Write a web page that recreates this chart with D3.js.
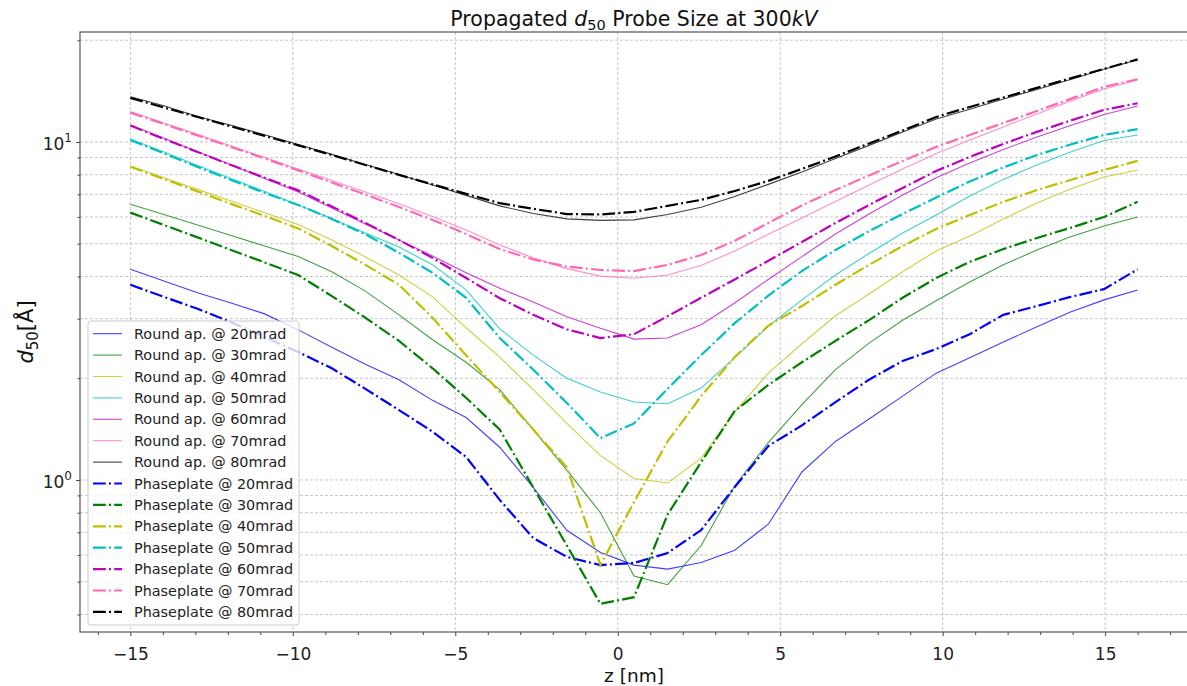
<!DOCTYPE html>
<html>
<head>
<meta charset="utf-8">
<script src="https://cdn.jsdelivr.net/npm/d3@7"></script>
<style>
  body { margin: 0; background: #fff; }
  svg { font-family: "DejaVu Sans", sans-serif; }
</style>
</head>
<body>
<div id="main"></div>
<script>
// defocus positions (nm)
var z = [-15, -13.967, -12.933, -11.9, -10.867, -9.833, -8.8, -7.767, -6.733, -5.7, -4.667,
  -3.633, -2.6, -1.567, -0.533, 0.5, 1.533, 2.567, 3.6, 4.633, 5.667, 6.7, 7.733, 8.767,
  9.8, 10.833, 11.867, 12.9, 13.933, 14.967, 16];

// round aperture, d50 in Angstrom
var round20 = [4.20, 3.88, 3.58, 3.34, 3.10, 2.78, 2.47, 2.20, 1.98, 1.72, 1.53, 1.25, 0.95, 0.71, 0.61, 0.56, 0.545, 0.57, 0.62, 0.74, 1.056, 1.30, 1.515, 1.77, 2.07, 2.30, 2.56, 2.84, 3.14, 3.41, 3.65];
var round30 = [6.54, 6.10, 5.68, 5.29, 4.92, 4.58, 4.13, 3.62, 3.08, 2.60, 2.23, 1.85, 1.41, 1.07, 0.80, 0.52, 0.49, 0.64, 0.96, 1.29, 1.67, 2.12, 2.54, 2.97, 3.39, 3.85, 4.33, 4.79, 5.24, 5.64, 6.00];
var round40 = [8.49, 7.84, 7.24, 6.69, 6.17, 5.70, 5.13, 4.57, 4.04, 3.48, 2.82, 2.31, 1.85, 1.47, 1.18, 1.01, 0.98, 1.16, 1.59, 2.07, 2.53, 3.06, 3.55, 4.13, 4.76, 5.27, 5.92, 6.60, 7.26, 7.88, 8.26];
var round50 = [10.21, 9.34, 8.52, 7.80, 7.14, 6.51, 5.94, 5.38, 4.89, 4.33, 3.65, 2.80, 2.34, 2.00, 1.82, 1.70, 1.68, 1.87, 2.30, 2.85, 3.41, 4.04, 4.68, 5.38, 6.08, 6.92, 7.75, 8.55, 9.34, 10.10, 10.49];
var round60 = [11.23, 10.25, 9.35, 8.55, 7.80, 7.11, 6.38, 5.72, 5.13, 4.60, 4.10, 3.69, 3.36, 3.04, 2.81, 2.61, 2.63, 2.88, 3.34, 3.92, 4.58, 5.34, 6.12, 6.97, 7.83, 8.67, 9.50, 10.35, 11.19, 12.06, 12.78];
var round70 = [12.3, 11.38, 10.53, 9.73, 9.00, 8.32, 7.69, 7.11, 6.56, 6.02, 5.49, 4.96, 4.54, 4.22, 4.01, 3.95, 4.04, 4.31, 4.76, 5.33, 5.96, 6.67, 7.46, 8.32, 9.25, 10.14, 11.08, 12.10, 13.23, 14.35, 15.26];
var round80 = [13.6, 12.8, 11.9, 11.2, 10.5, 9.83, 9.19, 8.58, 8.01, 7.46, 6.95, 6.47, 6.14, 5.92, 5.86, 5.88, 6.10, 6.41, 6.90, 7.49, 8.15, 8.93, 9.77, 10.7, 11.7, 12.5, 13.4, 14.3, 15.3, 16.4, 17.5];

// phaseplate
var phase20 = [3.78, 3.48, 3.21, 2.93, 2.65, 2.39, 2.14, 1.86, 1.61, 1.39, 1.17, 0.873, 0.673, 0.592, 0.56, 0.568, 0.608, 0.711, 0.953, 1.26, 1.45, 1.70, 1.98, 2.25, 2.44, 2.70, 3.08, 3.27, 3.48, 3.67, 4.20];
var phase30 = [6.18, 5.68, 5.22, 4.79, 4.40, 4.04, 3.50, 3.02, 2.58, 2.14, 1.75, 1.41, 0.95, 0.64, 0.43, 0.45, 0.79, 1.13, 1.60, 1.91, 2.23, 2.58, 2.97, 3.46, 3.96, 4.42, 4.82, 5.20, 5.57, 6.00, 6.65];
var phase40 = [8.45, 7.77, 7.14, 6.56, 6.04, 5.55, 4.92, 4.33, 3.78, 3.02, 2.34, 1.82, 1.41, 1.09, 0.56, 0.86, 1.30, 1.77, 2.31, 2.86, 3.27, 3.78, 4.33, 4.92, 5.53, 6.08, 6.65, 7.21, 7.72, 8.26, 8.79];
var phase50 = [10.14, 9.25, 8.44, 7.72, 7.07, 6.51, 5.92, 5.33, 4.70, 4.10, 3.46, 2.63, 2.12, 1.69, 1.33, 1.47, 1.86, 2.34, 2.91, 3.51, 4.15, 4.79, 5.45, 6.12, 6.85, 7.64, 8.41, 9.15, 9.83, 10.49, 10.91];
var phase60 = [11.18, 10.21, 9.34, 8.55, 7.83, 7.19, 6.44, 5.76, 5.13, 4.54, 3.96, 3.45, 3.08, 2.79, 2.63, 2.70, 3.05, 3.46, 3.92, 4.45, 5.06, 5.76, 6.51, 7.31, 8.21, 9.03, 9.87, 10.71, 11.57, 12.44, 13.02];
var phase70 = [12.21, 11.31, 10.45, 9.67, 8.94, 8.24, 7.59, 6.99, 6.42, 5.88, 5.34, 4.82, 4.49, 4.28, 4.18, 4.15, 4.33, 4.63, 5.10, 5.76, 6.49, 7.21, 7.96, 8.79, 9.67, 10.49, 11.38, 12.35, 13.41, 14.55, 15.33];
var phase80 = [13.5, 12.65, 11.86, 11.12, 10.42, 9.77, 9.15, 8.55, 7.99, 7.49, 7.02, 6.59, 6.34, 6.12, 6.10, 6.21, 6.47, 6.74, 7.16, 7.67, 8.32, 9.06, 9.90, 10.81, 11.86, 12.69, 13.54, 14.45, 15.42, 16.45, 17.55];

var angles = ['20mrad', '30mrad', '40mrad', '50mrad', '60mrad', '70mrad', '80mrad'];
var colors = ['#0000ff', '#008000', '#bfbf00', '#00bfbf', '#bf00bf', '#ff69b4', '#000000'];
var xMajor = [-15, -10, -5, 0, 5, 10, 15];
var yMajor = [1, 10];
var yMinor = [0.4, 0.5, 0.6, 0.7, 0.8, 0.9, 2, 3, 4, 5, 6, 7, 8, 9, 20];

var roundRows = [round20, round30, round40, round50, round60, round70, round80];
var phaseRows = [phase20, phase30, phase40, phase50, phase60, phase70, phase80];

var series = [];
roundRows.forEach(function(vals, i) {
  series.push({ label: 'Round ap. @ ' + angles[i], color: colors[i], values: vals, phase: false });
});
phaseRows.forEach(function(vals, i) {
  series.push({ label: 'Phaseplate @ ' + angles[i], color: colors[i], values: vals, phase: true });
});

var W = 1187, H = 686;
var plot = { left: 80, right: 1188, top: 32, bottom: 632 };
var dashdot = '12.8,3.2,2,3.2';
var gridColor = '#b8b8b8';

var x = d3.scaleLinear().domain([-16.55, 17.55]).range([plot.left, plot.right]);
var y = d3.scaleLog().domain([0.355, 21.15]).range([plot.bottom, plot.top]);

var svg = d3.select('#main').append('svg')
  .attr('width', W).attr('height', H);

svg.append('defs').append('clipPath').attr('id', 'plotclip')
  .append('rect')
  .attr('x', plot.left).attr('y', plot.top)
  .attr('width', plot.right - plot.left).attr('height', plot.bottom - plot.top);

// grid
var grid = svg.append('g').attr('stroke', gridColor).attr('stroke-width', 0.8)
  .attr('stroke-dasharray', '3,2');
grid.selectAll('.gx').data(xMajor).enter().append('line')
  .attr('x1', function(d) { return x(d); }).attr('x2', function(d) { return x(d); })
  .attr('y1', plot.top).attr('y2', plot.bottom);
grid.selectAll('.gy').data(yMajor.concat(yMinor)).enter().append('line')
  .attr('x1', plot.left).attr('x2', plot.right)
  .attr('y1', function(d) { return y(d); }).attr('y2', function(d) { return y(d); });

// axes
var xAxis = svg.append('g').attr('transform', 'translate(0,' + plot.bottom + ')')
  .call(d3.axisBottom(x).tickValues(xMajor).tickSize(4).tickPadding(12));
var xMinorAxis = svg.append('g').attr('transform', 'translate(0,' + plot.bottom + ')')
  .call(d3.axisBottom(x).tickValues(d3.range(-16, 18).filter(function(v) { return v % 5 !== 0; }))
    .tickSize(3).tickFormat(''));
var yAxis = svg.append('g').attr('transform', 'translate(' + plot.left + ',0)')
  .call(d3.axisLeft(y).tickValues(yMajor).tickSize(4).tickFormat(''));
var yMinorAxis = svg.append('g').attr('transform', 'translate(' + plot.left + ',0)')
  .call(d3.axisLeft(y).tickValues(yMinor).tickSize(2.5).tickFormat(''));

[xAxis, xMinorAxis, yAxis, yMinorAxis].forEach(function(a) {
  a.select('.domain').remove();
  a.selectAll('line').attr('stroke', '#444');
});
xAxis.selectAll('text').attr('font-size', 17).attr('fill', '#222')
  .attr('font-family', '"DejaVu Sans", sans-serif');

// y tick labels as 10^n
var yLab = svg.append('g').attr('fill', '#222');
yMajor.forEach(function(v) {
  var t = yLab.append('text').attr('x', 72).attr('y', y(v) + 8)
    .attr('text-anchor', 'end').attr('font-size', 17);
  t.append('tspan').text('10');
  t.append('tspan').attr('dy', -8).attr('font-size', 12).text(String(Math.round(Math.log10(v))));
});

// lines
var line = d3.line()
  .x(function(d, i) { return x(z[i]); })
  .y(function(d) { return y(d); });

var lines = svg.append('g').attr('clip-path', 'url(#plotclip)');
lines.selectAll('path').data(series).enter().append('path')
  .attr('d', function(d) { return line(d.values); })
  .attr('fill', 'none')
  .attr('stroke', function(d) { return d.color; })
  .attr('stroke-width', function(d) { return d.phase ? 2.2 : 1.1; })
  .attr('stroke-opacity', function(d) { return d.phase ? 1 : 0.75; })
  .attr('stroke-dasharray', function(d) { return d.phase ? dashdot : null; });

// frame
svg.append('rect')
  .attr('x', plot.left).attr('y', plot.top)
  .attr('width', plot.right - plot.left).attr('height', plot.bottom - plot.top)
  .attr('fill', 'none').attr('stroke', '#555').attr('stroke-width', 1.2);

// title
var title = svg.append('text').attr('x', 634).attr('y', 26)
  .attr('text-anchor', 'middle').attr('font-size', 20.5).attr('fill', '#111');
title.append('tspan').text('Propagated ');
title.append('tspan').attr('font-style', 'italic').text('d');
title.append('tspan').attr('dy', 4).attr('font-size', 14.5).text('50');
title.append('tspan').attr('dy', -4).text(' Probe Size at 300');
title.append('tspan').attr('font-style', 'italic').text('kV');

// axis labels
svg.append('text').attr('x', 634).attr('y', 681.5)
  .attr('text-anchor', 'middle').attr('font-size', 18.5).attr('fill', '#111')
  .text('z [nm]');

var ylabel = svg.append('text').attr('transform', 'translate(33,332) rotate(-90)')
  .attr('text-anchor', 'middle').attr('font-size', 21).attr('fill', '#111');
ylabel.append('tspan').attr('font-style', 'italic').text('d');
ylabel.append('tspan').attr('dy', 5).attr('font-size', 15).text('50');
ylabel.append('tspan').attr('dy', -5).text('[Å]');

// legend
var legend = svg.append('g').attr('transform', 'translate(88,321)');
legend.append('rect')
  .attr('width', 211).attr('height', 304).attr('rx', 3)
  .attr('fill', '#fff').attr('fill-opacity', 0.8)
  .attr('stroke', '#cccccc').attr('stroke-width', 1);

var rowH = 21.4;
var rows = legend.selectAll('.row').data(series).enter().append('g')
  .attr('transform', function(d, i) { return 'translate(0,' + (12.7 + i * rowH) + ')'; });
rows.append('line')
  .attr('x1', 5).attr('x2', 34).attr('y1', 0).attr('y2', 0)
  .attr('stroke', function(d) { return d.color; })
  .attr('stroke-width', function(d) { return d.phase ? 2.2 : 1.1; })
  .attr('stroke-opacity', function(d) { return d.phase ? 1 : 0.75; })
  .attr('stroke-dasharray', function(d) { return d.phase ? dashdot : null; });
rows.append('text')
  .attr('x', 46).attr('y', 5)
  .attr('font-size', 14.4).attr('fill', '#222')
  .text(function(d) { return d.label; });
</script>
</body>
</html>
